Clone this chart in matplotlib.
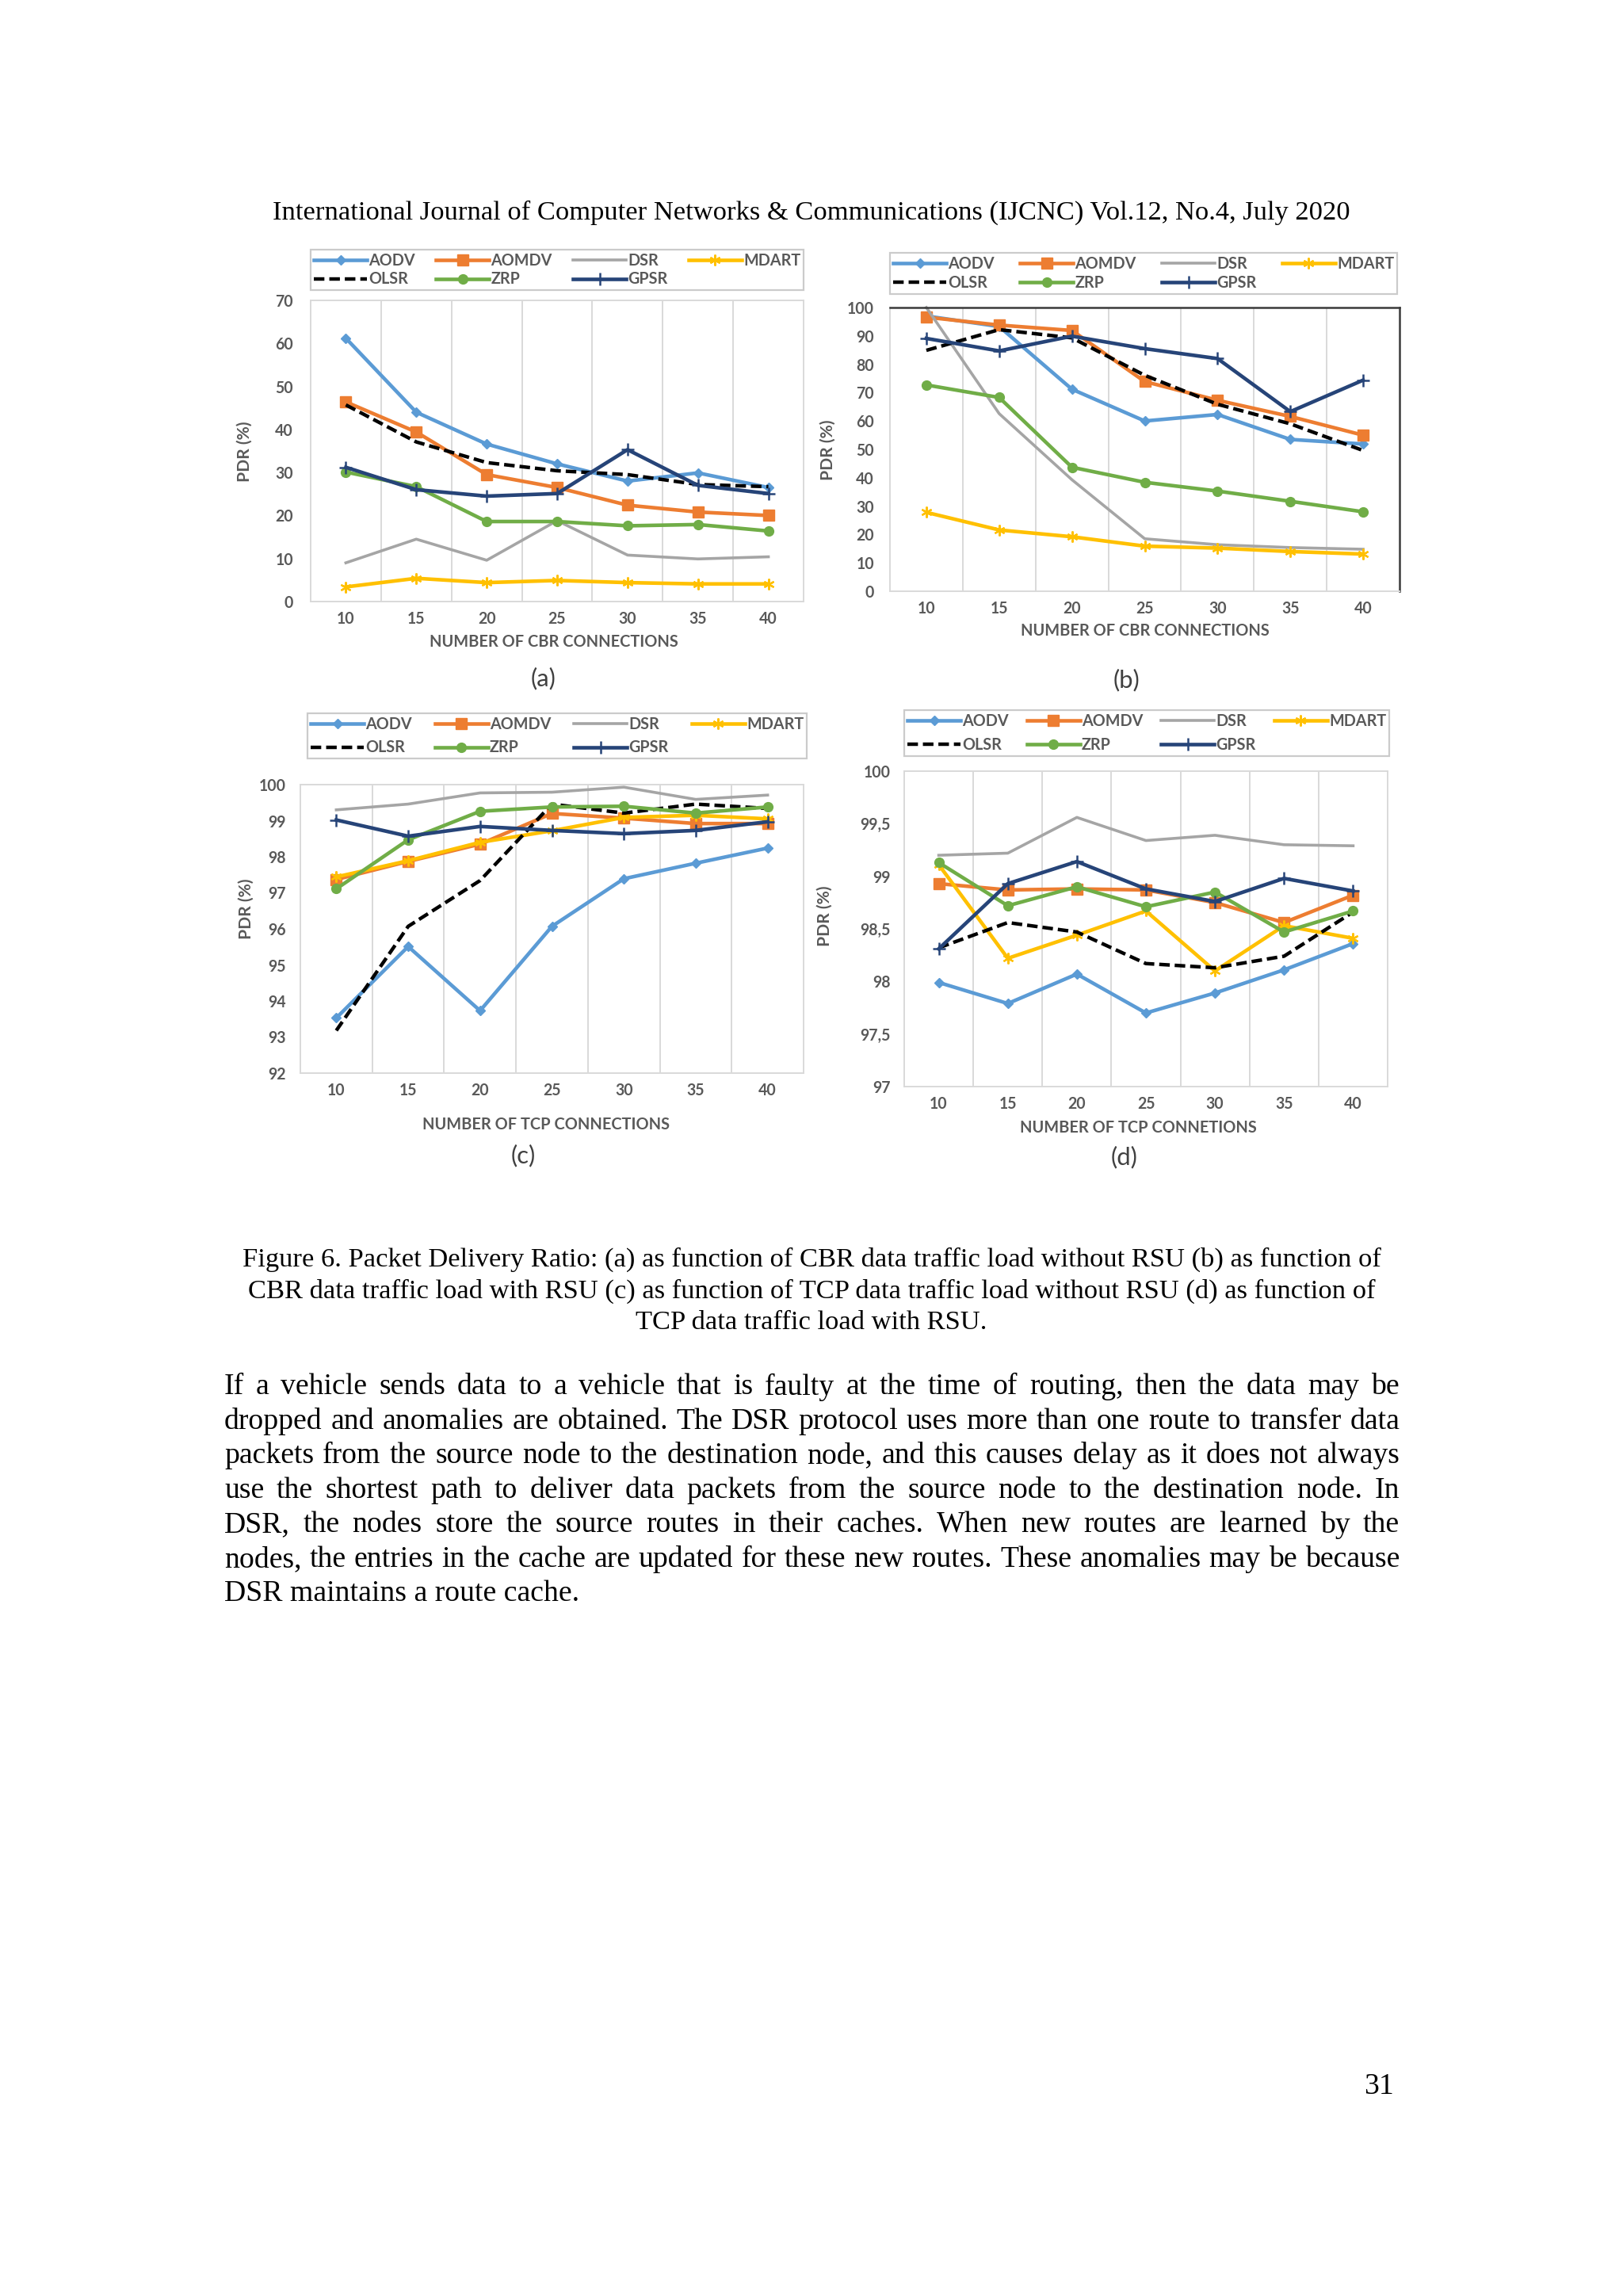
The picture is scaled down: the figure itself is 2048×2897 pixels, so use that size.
import matplotlib.pyplot as plt
from matplotlib import font_manager
from matplotlib.ticker import FuncFormatter, MultipleLocator

W, H = 2048, 2897

connections = [10, 15, 20, 25, 30, 35, 40]
protocols = ["AODV", "AOMDV", "DSR", "MDART", "OLSR", "ZRP", "GPSR"]

# (a) PDR vs number of CBR connections, without RSU
cbr_no_rsu = {
    "AODV":  [61.2, 44.0, 36.6, 32.0, 28.0, 29.9, 26.5],
    "AOMDV": [46.4, 39.4, 29.5, 26.5, 22.4, 20.8, 20.0],
    "DSR":   [9.0, 14.5, 9.6, 18.8, 10.8, 9.9, 10.4],
    "MDART": [3.4, 5.4, 4.4, 4.9, 4.4, 4.1, 4.1],
    "OLSR":  [45.7, 37.1, 32.3, 30.4, 29.5, 27.2, 26.7],
    "ZRP":   [30.1, 26.7, 18.6, 18.6, 17.6, 17.9, 16.4],
    "GPSR":  [31.2, 26.0, 24.5, 25.1, 35.3, 27.0, 25.1],
}

# (b) PDR vs number of CBR connections, with RSU
cbr_rsu = {
    "AODV":  [97.0, 93.3, 71.2, 60.0, 62.3, 53.5, 51.9],
    "AOMDV": [96.6, 93.8, 91.9, 73.9, 67.3, 61.6, 55.0],
    "DSR":   [100.0, 62.6, 39.3, 18.5, 16.4, 15.4, 14.8],
    "MDART": [27.8, 21.6, 19.2, 15.9, 15.2, 14.0, 13.1],
    "OLSR":  [84.9, 92.2, 89.3, 76.1, 65.9, 59.0, 49.6],
    "ZRP":   [72.7, 68.3, 43.7, 38.4, 35.3, 31.7, 28.0],
    "GPSR":  [89.1, 84.7, 89.9, 85.5, 82.0, 63.3, 74.4],
}

# (c) PDR vs number of TCP connections, without RSU
tcp_no_rsu = {
    "AODV":  [93.53, 95.51, 93.73, 96.07, 97.39, 97.82, 98.24],
    "AOMDV": [97.37, 97.87, 98.35, 99.20, 99.07, 98.92, 98.92],
    "DSR":   [99.30, 99.46, 99.77, 99.79, 99.93, 99.59, 99.71],
    "MDART": [97.44, 97.89, 98.40, 98.72, 99.09, 99.15, 99.05],
    "OLSR":  [93.18, 96.07, 97.34, 99.46, 99.21, 99.46, 99.34],
    "ZRP":   [97.11, 98.47, 99.26, 99.38, 99.40, 99.21, 99.38],
    "GPSR":  [99.02, 98.57, 98.84, 98.73, 98.64, 98.73, 98.97],
}

# (d) PDR vs number of TCP connections, with RSU
tcp_rsu = {
    "AODV":  [97.99, 97.79, 98.07, 97.70, 97.89, 98.11, 98.36],
    "AOMDV": [98.93, 98.87, 98.88, 98.87, 98.75, 98.56, 98.82],
    "DSR":   [99.20, 99.22, 99.56, 99.34, 99.39, 99.30, 99.29],
    "MDART": [99.11, 98.22, 98.44, 98.67, 98.10, 98.53, 98.41],
    "OLSR":  [98.32, 98.56, 98.47, 98.17, 98.13, 98.24, 98.66],
    "ZRP":   [99.13, 98.72, 98.90, 98.71, 98.85, 98.47, 98.67],
    "GPSR":  [98.31, 98.93, 99.14, 98.88, 98.76, 98.98, 98.86],
}

header = "International Journal of Computer Networks & Communications (IJCNC) Vol.12, No.4, July 2020"
caption = [
    "Figure 6. Packet Delivery Ratio: (a) as function of CBR data traffic load without RSU (b) as function of",
    "CBR data traffic load with RSU (c) as function of TCP data traffic load without RSU (d) as function of",
    "TCP data traffic load with RSU.",
]
body = [
    "If a vehicle sends data to a vehicle that is faulty at the time of routing, then the data may be",
    "dropped and anomalies are obtained. The DSR protocol uses more than one route to transfer data",
    "packets from the source node to the destination node, and this causes delay as it does not always",
    "use the shortest path to deliver data packets from the source node to the destination node. In",
    "DSR, the nodes store the source routes in their caches. When new routes are learned by the",
    "nodes, the entries in the cache are updated for these new routes. These anomalies may be because",
    "DSR maintains a route cache.",
]
page_no = "31"

styles = {
    "AODV":  dict(color="#5b9bd5", marker="D", ms=6.5, lw=3.3),
    "AOMDV": dict(color="#ed7d31", marker="s", ms=9.5, lw=3.3),
    "DSR":   dict(color="#a5a5a5", lw=2.6),
    "MDART": dict(color="#ffc000", marker=(6, 2, 0), ms=10, mew=1.6, lw=3.3),
    "OLSR":  dict(color="black", ls=(0, (3, 1.4)), lw=3.2),
    "ZRP":   dict(color="#70ad47", marker="o", ms=8.5, lw=3.3),
    "GPSR":  dict(color="#264478", marker="+", ms=12, mew=1.8, lw=3.3),
}
legend_order = ["AODV", "OLSR", "AOMDV", "ZRP", "DSR", "GPSR", "MDART"]

# pick a sans family that really has a bold face installed
bold_fams = {f.name for f in font_manager.fontManager.ttflist if f.weight in (700, "bold")}
CHART_FONT = next((f for f in ["Lato", "Roboto", "Open Sans", "Liberation Sans"] if f in bold_fams),
                  "DejaVu Sans")
SERIF = "Liberation Serif"
TXT_C = "#595959"
GRID_C = "#d9d9d9"

fig = plt.figure(figsize=(W / 100, H / 100), dpi=100)
fig.patch.set_facecolor("white")
renderer = fig.canvas.get_renderer()


def text_width(s, **kw):
    t = fig.text(0, 0, s, **kw)
    w = t.get_window_extent(renderer).width
    t.remove()
    return w


def fit_size(s, target, **kw):
    return 30 * target / text_width(s, fontsize=30, **kw)


def ptext(x, y, s, **kw):
    fig.text(x / W, 1 - y / H, s, **kw)


# chart text sizes, fitted to the widths seen on the page
lab_fs = fit_size("NUMBER OF CBR CONNECTIONS", 314, family=CHART_FONT, weight="bold")
leg_fs = fit_size("AOMDV", 77, family=CHART_FONT, weight="bold")
tick_fs = fit_size("100", 34, family=CHART_FONT, weight="bold")

panels = [
    dict(data=cbr_no_rsu, ax_px=(392, 379, 1014, 759), leg_px=(392, 315, 1014, 366),
         ylim=(0, 70), ystep=10, ypad=22, xlabel="NUMBER OF CBR CONNECTIONS",
         xlab_px=(699, 810), ylab_px=(309, 570), tag="(a)", tag_px=(686, 856), frame=False),
    dict(data=cbr_rsu, ax_px=(1123, 388, 1766, 746), leg_px=(1123, 319, 1763, 371),
         ylim=(0, 100), ystep=10, ypad=20, xlabel="NUMBER OF CBR CONNECTIONS",
         xlab_px=(1445, 796), ylab_px=(1045, 568), tag="(b)", tag_px=(1421, 858), frame=True),
    dict(data=tcp_no_rsu, ax_px=(379, 990, 1014, 1354), leg_px=(388, 893, 1018, 964),
         ylim=(92, 100), ystep=1, ypad=18, xlabel="NUMBER OF TCP CONNECTIONS",
         xlab_px=(689, 1419), ylab_px=(311, 1147), tag="(c)", tag_px=(660, 1458), frame=False),
    dict(data=tcp_rsu, ax_px=(1141, 973, 1751, 1371), leg_px=(1141, 893, 1753, 957),
         ylim=(97, 100), ystep=0.5, ypad=17, xlabel="NUMBER OF TCP CONNETIONS",
         xlab_px=(1436, 1423), ylab_px=(1041, 1156), tag="(d)", tag_px=(1419, 1460), frame=False,
         comma=True),
]

for p in panels:
    x0, y0, x1, y1 = p["ax_px"]
    ax = fig.add_axes([x0 / W, 1 - y1 / H, (x1 - x0) / W, (y1 - y0) / H])
    pos = list(range(len(connections)))
    lines = {}
    for name in protocols:
        (ln,) = ax.plot(pos, p["data"][name], label=name, clip_on=False, **styles[name])
        lines[name] = ln

    ax.set_xlim(-0.5, len(connections) - 0.5)
    ax.set_ylim(*p["ylim"])
    ax.yaxis.set_major_locator(MultipleLocator(p["ystep"]))
    if p.get("comma"):
        ax.yaxis.set_major_formatter(FuncFormatter(lambda v, _: f"{v:g}".replace(".", ",")))
    ax.set_xticks(pos)
    ax.set_xticklabels([str(c) for c in connections])
    for b in pos[:-1]:
        ax.axvline(b + 0.5, color=GRID_C, lw=1.4, zorder=0)
    ax.tick_params(length=0, labelsize=tick_fs, labelcolor=TXT_C)
    ax.tick_params(axis="y", pad=p["ypad"] * 0.72)
    ax.tick_params(axis="x", pad=12 * 0.72)
    for lab in ax.get_xticklabels() + ax.get_yticklabels():
        lab.set_family(CHART_FONT)
        lab.set_fontweight("bold")
    for side, sp in ax.spines.items():
        sp.set_color(GRID_C)
        sp.set_linewidth(1.4)
    if p["frame"]:
        for side in ("top", "right"):
            ax.spines[side].set_color("#3a3a3a")
            ax.spines[side].set_linewidth(1.8)

    lx0, ly0, lx1, ly1 = p["leg_px"]
    leg = ax.legend([lines[n] for n in legend_order], legend_order, ncol=4,
                    loc="center", mode="expand",
                    bbox_to_anchor=(lx0 / W, 1 - ly1 / H, (lx1 - lx0) / W, (ly1 - ly0) / H),
                    bbox_transform=fig.transFigure, borderaxespad=0, fancybox=False,
                    handlelength=3.4, handletextpad=0.1, columnspacing=0.6,
                    labelspacing=0.2 if ly1 - ly0 < 60 else 0.5, borderpad=0.2,
                    prop=dict(family=CHART_FONT, weight="bold", size=leg_fs),
                    labelcolor=TXT_C, edgecolor="#bfbfbf")
    leg.get_frame().set_linewidth(1.6)

    ptext(*p["xlab_px"], p["xlabel"], ha="center", va="center", fontsize=lab_fs,
          family=CHART_FONT, weight="bold", color=TXT_C)
    ptext(*p["ylab_px"], "PDR (%)", ha="center", va="center", rotation=90, fontsize=lab_fs * 1.05,
          family=CHART_FONT, weight="bold", color=TXT_C)
    ptext(*p["tag_px"], p["tag"], ha="center", va="center", fontsize=lab_fs * 1.55,
          family=CHART_FONT, color="#404040")

# page text in Times-like serif
head_fs = fit_size(header, 1356, family=SERIF)
ptext(1024, 268, header, ha="center", va="center", fontsize=head_fs, family=SERIF)

cap_fs = fit_size(caption[0], 1432, family=SERIF)
for i, line in enumerate(caption):
    ptext(1024, 1589 + 40 * i, line, ha="center", va="center", fontsize=cap_fs, family=SERIF)

body_fs = fit_size(body[-1], 448, family=SERIF)
left, right = 283, 1766
for i, line in enumerate(body):
    y = 1750 + 43.5 * i
    if i == len(body) - 1:
        ptext(left, y, line, ha="left", va="center", fontsize=body_fs, family=SERIF)
        continue
    words = line.split()
    widths = [text_width(w, fontsize=body_fs, family=SERIF) for w in words]
    gap = (right - left - sum(widths)) / (len(words) - 1)
    x = left
    for w, wd in zip(words, widths):
        ptext(x, y, w, ha="left", va="center", fontsize=body_fs, family=SERIF)
        x += wd + gap

ptext(1740, 2633, page_no, ha="center", va="center", fontsize=body_fs, family=SERIF)

fig.savefig("out.png", dpi=100, facecolor="white")
